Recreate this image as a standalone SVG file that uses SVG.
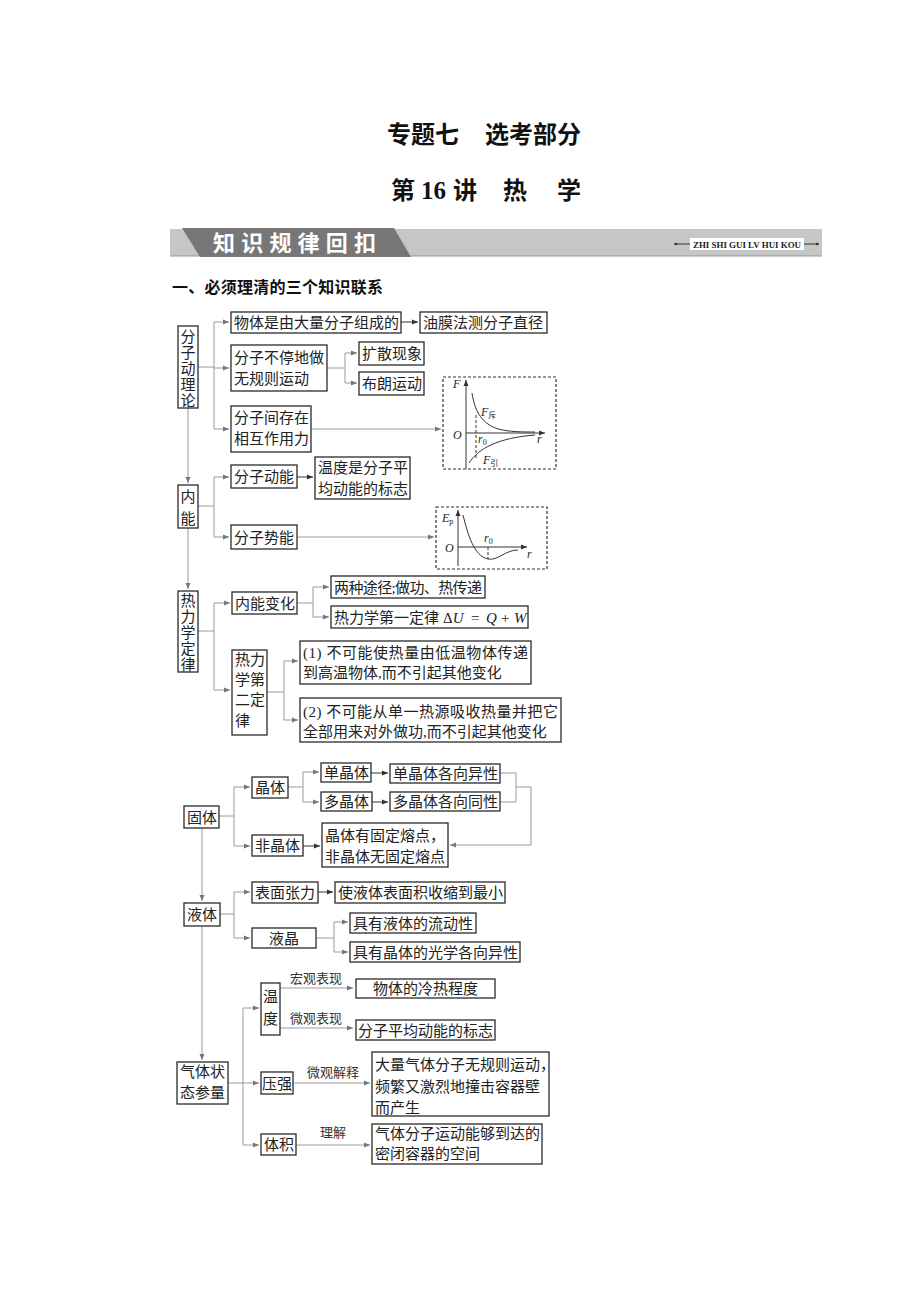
<svg xmlns="http://www.w3.org/2000/svg" width="920" height="1302" viewBox="0 0 920 1302">
<defs>
<style>
.bx{fill:#fff;stroke:#2a2a2a;stroke-width:1.3}
.t{font-family:"Liberation Serif","Noto Sans CJK SC",serif;font-size:15px;fill:#222}
.tm{text-anchor:middle}
.lb{font-family:"Liberation Serif","Noto Sans CJK SC",serif;font-size:13px;fill:#333}
.c{fill:none;stroke:#9a9a9a;stroke-width:1}
.ca{fill:none;stroke:#9a9a9a;stroke-width:1;marker-end:url(#ag)}
.da{fill:none;stroke:#333;stroke-width:1;marker-end:url(#ad)}
.gb{fill:none;stroke:#333;stroke-width:1.2;stroke-dasharray:3 2}
.ax{fill:none;stroke:#333;stroke-width:1;marker-end:url(#ad)}
.cv{fill:none;stroke:#333;stroke-width:1}
.dsh{fill:none;stroke:#333;stroke-width:1;stroke-dasharray:3 2}
.gi{font-family:"Liberation Serif",serif;font-style:italic;font-size:12px;fill:#222}
.gs{font-family:"Liberation Serif","Noto Sans CJK SC",serif;font-size:8px;font-style:normal;fill:#222}
.h1{font-family:"Noto Sans CJK SC",sans-serif;font-weight:bold;font-size:24px;fill:#111}
.m{font-family:"Liberation Serif",serif;font-size:15px;fill:#222}
</style>
<marker id="ag" viewBox="0 0 6 6" refX="6" refY="3" markerWidth="6" markerHeight="6" markerUnits="userSpaceOnUse" orient="auto"><path d="M0,0.5 L6,3 L0,5.5 z" fill="#777"/></marker>
<marker id="ad" viewBox="0 0 6 6" refX="6" refY="3" markerWidth="6" markerHeight="6" markerUnits="userSpaceOnUse" orient="auto"><path d="M0,0.5 L6,3 L0,5.5 z" fill="#333"/></marker>
</defs>
<rect width="920" height="1302" fill="#fff"/>

<g id="title">
<text class="h1" x="387" y="143">专题七</text>
<text class="h1" x="485" y="143">选考部分</text>
<text class="h1" x="391" y="199">第</text>
<text x="421" y="199" font-family="Liberation Serif,serif" font-weight="bold" font-size="25" fill="#111">16</text>
<text class="h1" x="453" y="199">讲</text>
<text class="h1" x="503" y="199">热</text>
<text class="h1" x="557" y="199">学</text>
</g>

<g id="banner">
<rect x="170" y="229" width="652" height="27" fill="#c6c6c6"/>
<line x1="170" y1="256" x2="822" y2="256" stroke="#999" stroke-width="1"/>
<path d="M182,228 L394,228 L411,257 L200,257 z" fill="#777"/>
<text x="213" y="251" font-family="Noto Sans CJK SC,sans-serif" font-weight="bold" font-size="22" fill="#fff" textLength="163" lengthAdjust="spacing">知识规律回扣</text>
<line x1="674" y1="244" x2="690" y2="244" stroke="#333" stroke-width="1"/>
<circle cx="676" cy="244" r="1.3" fill="#333"/>
<rect x="690" y="238" width="114" height="12" fill="#fff"/>
<text x="693" y="247.5" font-family="Liberation Serif,serif" font-weight="bold" font-size="8" fill="#222" textLength="108" lengthAdjust="spacingAndGlyphs">ZHI SHI GUI LV HUI KOU</text>
<line x1="804" y1="244" x2="819" y2="244" stroke="#333" stroke-width="1"/>
<circle cx="817" cy="244" r="1.3" fill="#333"/>
</g>

<g id="heading">
<text x="172" y="293" font-family="Noto Sans CJK SC,sans-serif" font-weight="bold" font-size="16" fill="#111" textLength="211" lengthAdjust="spacing">一、必须理清的三个知识联系</text>
</g>

<g id="connectors">
<path class="c" d="M198,367 H214 M214,322 V429"/>
<path class="ca" d="M214,322 H229"/>
<path class="ca" d="M214,368 H229"/>
<path class="ca" d="M214,429 H229"/>
<path class="da" d="M401,322 H418"/>
<path class="c" d="M327,368 H345 M345,353 V383"/>
<path class="ca" d="M345,353 H357"/>
<path class="ca" d="M345,383 H357"/>
<path class="ca" d="M311,429 H441"/>
<path class="ca" d="M188,408 V483"/>
<path class="c" d="M198,506 H214 M214,477 V537"/>
<path class="ca" d="M214,477 H229"/>
<path class="ca" d="M214,537 H229"/>
<path class="da" d="M297,477 H313"/>
<path class="ca" d="M297,537 H434"/>
<path class="ca" d="M188,528 V589"/>
<path class="c" d="M198,631 H214 M214,603 V690"/>
<path class="ca" d="M214,603 H230"/>
<path class="ca" d="M214,690 H230"/>
<path class="c" d="M297,603 H313 M313,587 V617"/>
<path class="ca" d="M313,587 H329"/>
<path class="ca" d="M313,617 H329"/>
<path class="c" d="M267,692 H284 M284,661 V720"/>
<path class="ca" d="M284,661 H298"/>
<path class="ca" d="M284,720 H298"/>
<path class="c" d="M219,816 H234 M234,787 V846"/>
<path class="ca" d="M234,787 H250"/>
<path class="ca" d="M234,846 H250"/>
<path class="c" d="M288,787 H303 M303,772 V802"/>
<path class="ca" d="M303,772 H319"/>
<path class="ca" d="M303,802 H319"/>
<path class="da" d="M371,773 H388"/>
<path class="da" d="M372,802 H388"/>
<path class="c" d="M500,773 H516 M500,802 H516 M516,773 V802 M516,787 H531 V845"/>
<path class="ca" d="M531,845 H450"/>
<path class="da" d="M303,846 H320"/>
<path class="ca" d="M202,828 V901"/>
<path class="c" d="M220,914 H234 M234,892 V938"/>
<path class="ca" d="M234,892 H250"/>
<path class="ca" d="M234,938 H250"/>
<path class="da" d="M318,892 H333"/>
<path class="c" d="M316,938 H334 M334,922 V952"/>
<path class="ca" d="M334,922 H348"/>
<path class="ca" d="M334,952 H348"/>
<path class="ca" d="M202,926 V1060"/>
<path class="c" d="M228,1083 H243 M243,1008 V1145"/>
<path class="ca" d="M243,1008 H259"/>
<path class="ca" d="M243,1083 H259"/>
<path class="ca" d="M243,1145 H259"/>
<path class="ca" d="M280,988 H353"/>
<path class="ca" d="M280,1028 H353"/>
<path class="ca" d="M293,1083 H370"/>
<path class="ca" d="M296,1145 H370"/>
<text class="lb" x="290" y="982.5">宏观表现</text>
<text class="lb" x="290" y="1022.5">微观表现</text>
<text class="lb" x="307" y="1076.5">微观解释</text>
<text class="lb" x="320" y="1136.5">理解</text>
</g>

<g id="n-fzdll">
<rect class="bx" x="178" y="326" width="20" height="82"/>
<text class="t tm" x="188" y="341.5">分</text>
<text class="t tm" x="188" y="357.5">子</text>
<text class="t tm" x="188" y="373.5">动</text>
<text class="t tm" x="188" y="389.5">理</text>
<text class="t tm" x="188" y="405.5">论</text>
</g>
<g id="n-wtsd">
<rect class="bx" x="231" y="312" width="170" height="21"/>
<text class="t" x="234" y="328">物体是由大量分子组成的</text>
</g>
<g id="n-ymf">
<rect class="bx" x="420" y="312" width="127" height="21"/>
<text class="t" x="423" y="328">油膜法测分子直径</text>
</g>
<g id="n-btd">
<rect class="bx" x="231" y="345" width="96" height="46"/>
<text class="t" x="234" y="362.5">分子不停地做</text>
<text class="t" x="234" y="383.5">无规则运动</text>
</g>
<g id="n-ks">
<rect class="bx" x="359" y="342" width="65" height="23"/>
<text class="t" x="362" y="359">扩散现象</text>
</g>
<g id="n-bl">
<rect class="bx" x="359" y="372" width="65" height="23"/>
<text class="t" x="362" y="389">布朗运动</text>
</g>
<g id="n-xhzy">
<rect class="bx" x="231" y="406" width="80" height="46"/>
<text class="t" x="234" y="422.5">分子间存在</text>
<text class="t" x="234" y="443.5">相互作用力</text>
</g>
<g id="n-graphF">
<rect class="gb" x="443" y="377" width="113" height="92"/>
<path class="ax" d="M466,469 V380"/>
<path class="ax" d="M466,433 H545"/>
<path class="dsh" d="M476,415 V458"/>
<path class="cv" d="M472,393 C475,413 483,424 498,429 C510,432 522,432 535,432"/>
<path class="cv" d="M469,463 C479,448 498,438 535,435"/>
<text class="gi" x="453" y="388">F</text>
<text class="gi" x="453" y="439">O</text>
<text class="gi" x="537" y="443">r</text>
<text class="gi" x="478" y="443">r<tspan class="gs" dy="2">0</tspan></text>
<text class="gi" x="481" y="416">F<tspan class="gs" dy="2">斥</tspan></text>
<text class="gi" x="483" y="464">F<tspan class="gs" dy="2">引</tspan></text>
</g>

<g id="n-nn">
<rect class="bx" x="178" y="485" width="20" height="43"/>
<text class="t tm" x="188" y="501.5">内</text>
<text class="t tm" x="188" y="523.5">能</text>
</g>
<g id="n-fzdn">
<rect class="bx" x="231" y="465" width="66" height="23"/>
<text class="t" x="234" y="482">分子动能</text>
</g>
<g id="n-wdbz">
<rect class="bx" x="315" y="457" width="95" height="42"/>
<text class="t" x="318" y="472.5">温度是分子平</text>
<text class="t" x="318" y="493.5">均动能的标志</text>
</g>
<g id="n-fzsn">
<rect class="bx" x="231" y="525" width="66" height="24"/>
<text class="t" x="234" y="542.5">分子势能</text>
</g>
<g id="n-graphEp">
<rect class="gb" x="436" y="507" width="111" height="62"/>
<path class="ax" d="M458,566 V510"/>
<path class="ax" d="M458,547 H527"/>
<path class="dsh" d="M488,547 V559"/>
<path class="cv" d="M463,515 C468,535 474,556 488,559 C498,561 505,550 518,550"/>
<text class="gi" x="442" y="522">E<tspan class="gs" dy="2">p</tspan></text>
<text class="gi" x="445" y="552">O</text>
<text class="gi" x="527" y="558">r</text>
<text class="gi" x="484" y="542">r<tspan class="gs" dy="2">0</tspan></text>
</g>

<g id="n-rlxdl">
<rect class="bx" x="178" y="591" width="20" height="81"/>
<text class="t tm" x="188" y="605.5">热</text>
<text class="t tm" x="188" y="621.5">力</text>
<text class="t tm" x="188" y="637.5">学</text>
<text class="t tm" x="188" y="653.5">定</text>
<text class="t tm" x="188" y="669.5">律</text>
</g>
<g id="n-nnbh">
<rect class="bx" x="232" y="592" width="65" height="22"/>
<text class="t" x="235" y="608.5">内能变化</text>
</g>
<g id="n-lzjt">
<rect class="bx" x="331" y="576" width="154" height="22"/>
<text class="t" x="334" y="592.5" textLength="148" lengthAdjust="spacing">两种途径;做功、热传递</text>
</g>
<g id="n-dyl">
<rect class="bx" x="331" y="606" width="197" height="22"/>
<text class="t" x="334" y="622.5">热力学第一定律</text>
<text class="m" x="443" y="622.5">Δ<tspan font-style="italic">U</tspan></text>
<text class="m" x="471" y="622.5">=</text>
<text class="m" x="486" y="622.5" font-style="italic">Q</text>
<text class="m" x="501" y="622.5">+</text>
<text class="m" x="514" y="622.5" font-style="italic">W</text>
</g>
<g id="n-del">
<rect class="bx" x="232" y="650" width="35" height="85"/>
<text class="t" x="235" y="664.5">热力</text>
<text class="t" x="235" y="684.5">学第</text>
<text class="t" x="235" y="704.5">二定</text>
<text class="t" x="235" y="725.5">律</text>
</g>
<g id="n-del1">
<rect class="bx" x="300" y="641" width="231" height="43"/>
<text class="t" x="303" y="658" textLength="225" lengthAdjust="spacing">(1) 不可能使热量由低温物体传递</text>
<text class="t" x="303" y="678">到高温物体,而不引起其他变化</text>
</g>
<g id="n-del2">
<rect class="bx" x="300" y="698" width="261" height="44"/>
<text class="t" x="303" y="716.5" textLength="255" lengthAdjust="spacing">(2) 不可能从单一热源吸收热量并把它</text>
<text class="t" x="303" y="736.5">全部用来对外做功,而不引起其他变化</text>
</g>

<g id="n-gt">
<rect class="bx" x="184" y="806" width="35" height="22"/>
<text class="t" x="187" y="822.5">固体</text>
</g>
<g id="n-jt">
<rect class="bx" x="252" y="777" width="36" height="21"/>
<text class="t" x="255" y="793">晶体</text>
</g>
<g id="n-djt">
<rect class="bx" x="321" y="763" width="50" height="19"/>
<text class="t" x="324" y="778">单晶体</text>
</g>
<g id="n-djtyx">
<rect class="bx" x="390" y="764" width="110" height="19"/>
<text class="t" x="393" y="779">单晶体各向异性</text>
</g>
<g id="n-dujt">
<rect class="bx" x="321" y="792" width="51" height="19"/>
<text class="t" x="324" y="807">多晶体</text>
</g>
<g id="n-dujttx">
<rect class="bx" x="390" y="792" width="110" height="19"/>
<text class="t" x="393" y="807">多晶体各向同性</text>
</g>
<g id="n-fjt">
<rect class="bx" x="252" y="835" width="51" height="21"/>
<text class="t" x="255" y="851">非晶体</text>
</g>
<g id="n-rd">
<rect class="bx" x="322" y="823" width="126" height="44"/>
<text class="t" x="325" y="841">晶体有固定熔点，</text>
<text class="t" x="325" y="862">非晶体无固定熔点</text>
</g>

<g id="n-yt">
<rect class="bx" x="184" y="903" width="36" height="23"/>
<text class="t" x="187" y="919.5">液体</text>
</g>
<g id="n-bmzl">
<rect class="bx" x="252" y="882" width="66" height="21"/>
<text class="t" x="255" y="898">表面张力</text>
</g>
<g id="n-sytbm">
<rect class="bx" x="335" y="882" width="170" height="21"/>
<text class="t" x="338" y="898">使液体表面积收缩到最小</text>
</g>
<g id="n-yj">
<rect class="bx" x="252" y="928" width="64" height="20"/>
<text class="t tm" x="284" y="943.5">液晶</text>
</g>
<g id="n-ldx">
<rect class="bx" x="350" y="913" width="126" height="20"/>
<text class="t" x="353" y="928.5">具有液体的流动性</text>
</g>
<g id="n-gxyx">
<rect class="bx" x="350" y="942" width="170" height="20"/>
<text class="t" x="353" y="957.5">具有晶体的光学各向异性</text>
</g>

<g id="n-qtzt">
<rect class="bx" x="177" y="1062" width="51" height="42"/>
<text class="t" x="180" y="1076.5">气体状</text>
<text class="t" x="180" y="1097.5">态参量</text>
</g>
<g id="n-wd">
<rect class="bx" x="261" y="983" width="19" height="52"/>
<text class="t tm" x="270.5" y="1001.5">温</text>
<text class="t tm" x="270.5" y="1023.5">度</text>
</g>
<g id="n-lrcd">
<rect class="bx" x="356" y="979" width="139" height="19"/>
<text class="t tm" x="425.5" y="994">物体的冷热程度</text>
</g>
<g id="n-pjdn">
<rect class="bx" x="356" y="1020" width="139" height="20"/>
<text class="t" x="358" y="1035.5">分子平均动能的标志</text>
</g>
<g id="n-yq">
<rect class="bx" x="261" y="1072" width="32" height="22"/>
<text class="t tm" x="277" y="1088.5">压强</text>
</g>
<g id="n-yqjs">
<rect class="bx" x="372" y="1052" width="177" height="64"/>
<text class="t" x="375" y="1069.5">大量气体分子无规则运动，</text>
<text class="t" x="375" y="1092">频繁又激烈地撞击容器壁</text>
<text class="t" x="375" y="1112.5">而产生</text>
</g>
<g id="n-tj">
<rect class="bx" x="261" y="1134" width="35" height="21"/>
<text class="t" x="264" y="1150">体积</text>
</g>
<g id="n-tjlj">
<rect class="bx" x="372" y="1124" width="170" height="40"/>
<text class="t" x="375" y="1139">气体分子运动能够到达的</text>
<text class="t" x="375" y="1159">密闭容器的空间</text>
</g>
</svg>
